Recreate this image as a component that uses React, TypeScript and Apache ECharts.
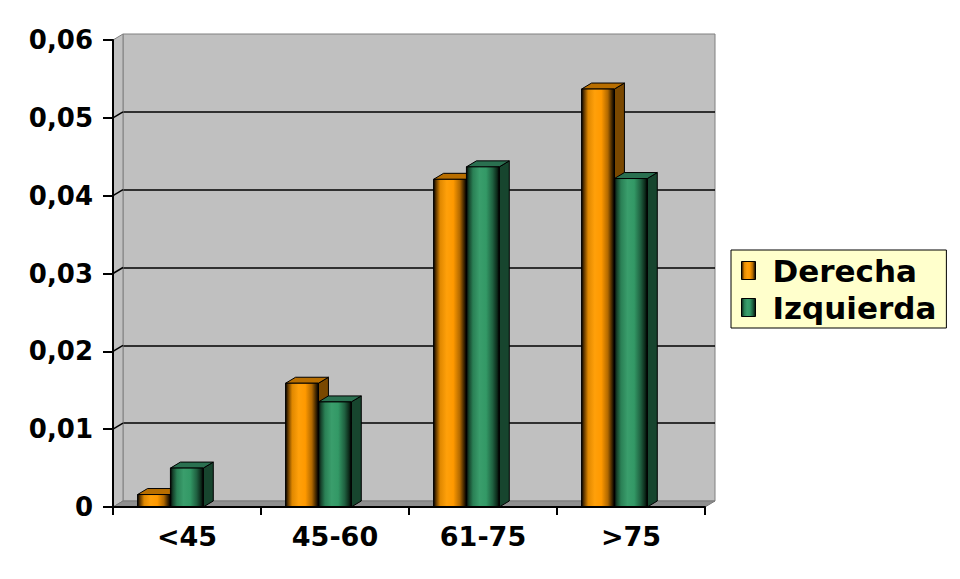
import React, { useEffect, useRef } from "react";
import * as echarts from "echarts";

const categories = ["<45", "45-60", "61-75", ">75"];
const derecha = [0.0016, 0.0159, 0.0421, 0.0537];
const izquierda = [0.005, 0.0135, 0.0437, 0.0422];
const seriesNames = ["Derecha", "Izquierda"];
const wallTicks = [0.01, 0.02, 0.03, 0.04, 0.05];

const FONT = "'DejaVu Sans', 'Liberation Sans', Arial, sans-serif";
const DX = 10;
const DY = -6;

const orangeFront = [
  { offset: 0, color: "#000000" },
  { offset: 0.07, color: "#5a3400" },
  { offset: 0.2, color: "#e08800" },
  { offset: 0.4, color: "#ffa00a" },
  { offset: 0.6, color: "#ff9900" },
  { offset: 0.8, color: "#b06800" },
  { offset: 0.93, color: "#3a2200" },
  { offset: 1, color: "#000000" },
];
const greenFront = [
  { offset: 0, color: "#000000" },
  { offset: 0.07, color: "#15402a" },
  { offset: 0.2, color: "#2a8055" },
  { offset: 0.4, color: "#3a9e6c" },
  { offset: 0.6, color: "#339966" },
  { offset: 0.8, color: "#1f6040" },
  { offset: 0.93, color: "#0c2a1a" },
  { offset: 1, color: "#000000" },
];

function barRenderer(offsetFrac: number, widthFrac: number, front: any[], side: string, top: string) {
  return (params: any, api: any) => {
    const cat = api.value(0);
    const v = api.value(1);
    const t = api.coord([cat, v]);
    const b = api.coord([cat, 0]);
    const cw = api.size([1, 0])[0];
    const w = cw * widthFrac;
    const x = t[0] + cw * offsetFrac;
    const yT = t[1];
    const y0 = b[1];
    return {
      type: "group",
      children: [
        {
          type: "polygon",
          shape: { points: [[x + w, yT], [x + w + DX, yT + DY], [x + w + DX, y0 + DY], [x + w, y0]] },
          style: { fill: side, stroke: "#000", lineWidth: 1 },
        },
        {
          type: "polygon",
          shape: { points: [[x, yT], [x + DX, yT + DY], [x + w + DX, yT + DY], [x + w, yT]] },
          style: { fill: top, stroke: "#000", lineWidth: 1 },
        },
        {
          type: "rect",
          shape: { x, y: yT, width: w, height: y0 - yT },
          style: { fill: new echarts.graphic.LinearGradient(0, 0, 1, 0, front), stroke: "#000", lineWidth: 1 },
        },
      ],
    };
  };
}

export default function App() {
  const ref = useRef<HTMLDivElement>(null);
  useEffect(() => {
    if (!ref.current) return;
    const chart = echarts.init(ref.current, null, { renderer: "svg" });
    const yFmt = (v: number) => (v === 0 ? "0" : v.toFixed(2).replace(".", ","));
    chart.setOption({
      animation: false,
      backgroundColor: "#ffffff",
      textStyle: { fontFamily: FONT },
      grid: [
        { left: 113, top: 40, width: 592, height: 467, containLabel: false },
        {
          left: 123,
          top: 34,
          width: 592,
          height: 467,
          show: true,
          backgroundColor: "#C0C0C0",
          borderColor: "#808080",
          borderWidth: 1,
          z: 0,
        },
      ],
      xAxis: [
        {
          type: "category",
          gridIndex: 0,
          data: categories,
          axisLine: { show: true, lineStyle: { color: "#000", width: 2 } },
          axisTick: { show: true, length: 8, lineStyle: { color: "#000", width: 2 } },
          axisLabel: { color: "#000", fontSize: 27, fontWeight: "bold", fontFamily: FONT, margin: 16 },
          splitLine: { show: false },
          z: 5,
        },
        { type: "value", gridIndex: 1, min: 0, max: 1, show: false },
      ],
      yAxis: [
        {
          type: "value",
          gridIndex: 0,
          min: 0,
          max: 0.06,
          interval: 0.01,
          axisLine: { show: true, lineStyle: { color: "#000", width: 2 } },
          axisTick: { show: true, length: 10, lineStyle: { color: "#000", width: 2 } },
          axisLabel: { color: "#000", fontSize: 26, fontWeight: "bold", fontFamily: FONT, margin: 20, formatter: yFmt },
          splitLine: { show: false },
          z: 5,
        },
        {
          type: "value",
          gridIndex: 1,
          min: 0,
          max: 0.06,
          interval: 0.01,
          axisLine: { show: false },
          axisTick: { show: false },
          axisLabel: { show: false },
          splitLine: { show: true, showMinLine: false, showMaxLine: false, lineStyle: { color: "#000", width: 1.5 } },
        },
      ],
      legend: {
        data: seriesNames,
        orient: "vertical",
        left: 731,
        top: 250,
        backgroundColor: "#FFFFCC",
        borderColor: "#000",
        borderWidth: 1,
        padding: [5, 10, 5, 10],
        itemGap: 6,
        itemWidth: 14,
        itemHeight: 18,
        icon: "rect",
        itemStyle: { borderColor: "#000", borderWidth: 1 },
        textStyle: { fontSize: 31, fontWeight: "bold", color: "#000", fontFamily: FONT, padding: [0, 0, 0, 12], lineHeight: 30 },
      },
      graphic: [
        {
          type: "polygon",
          z: 1,
          shape: { points: [[113, 40], [123, 34], [123, 501], [113, 507]] },
          style: { fill: "#C0C0C0", stroke: "#808080", lineWidth: 1 },
        },
        {
          type: "polygon",
          z: 1,
          shape: { points: [[113, 507], [123, 501], [715, 501], [705, 507]] },
          style: { fill: "#8f8f8f", stroke: "#7a7a7a", lineWidth: 1 },
        },
      ],
      series: [
        {
          type: "custom",
          name: "wallStubs",
          xAxisIndex: 1,
          yAxisIndex: 1,
          silent: true,
          z: 3,
          data: wallTicks.map((v) => [0, v]),
          encode: { x: 0, y: 1 },
          renderItem: (params: any, api: any) => {
            const p = api.coord([0, api.value(1)]);
            return {
              type: "line",
              shape: { x1: p[0], y1: p[1], x2: p[0] - DX, y2: p[1] - DY },
              style: { stroke: "#000", lineWidth: 1.5 },
            };
          },
        },
        {
          type: "custom",
          name: seriesNames[0],
          xAxisIndex: 0,
          yAxisIndex: 0,
          z: 4,
          itemStyle: { color: new echarts.graphic.LinearGradient(0, 0, 1, 0, orangeFront) },
          data: categories.map((c, i) => [i, derecha[i]]),
          encode: { x: 0, y: 1 },
          renderItem: barRenderer(-0.334, 0.222, orangeFront, "#7a4800", "#b86e00"),
        },
        {
          type: "custom",
          name: seriesNames[1],
          xAxisIndex: 0,
          yAxisIndex: 0,
          z: 4,
          itemStyle: { color: new echarts.graphic.LinearGradient(0, 0, 1, 0, greenFront) },
          data: categories.map((c, i) => [i, izquierda[i]]),
          encode: { x: 0, y: 1 },
          renderItem: barRenderer(-0.112, 0.222, greenFront, "#17452e", "#2a7050"),
        },
      ],
    });
    return () => chart.dispose();
  }, []);
  return (
    <div
      ref={ref}
      style={{ position: "absolute", left: 0, top: 0, width: 960, height: 579, background: "#fff" }}
    />
  );
}
